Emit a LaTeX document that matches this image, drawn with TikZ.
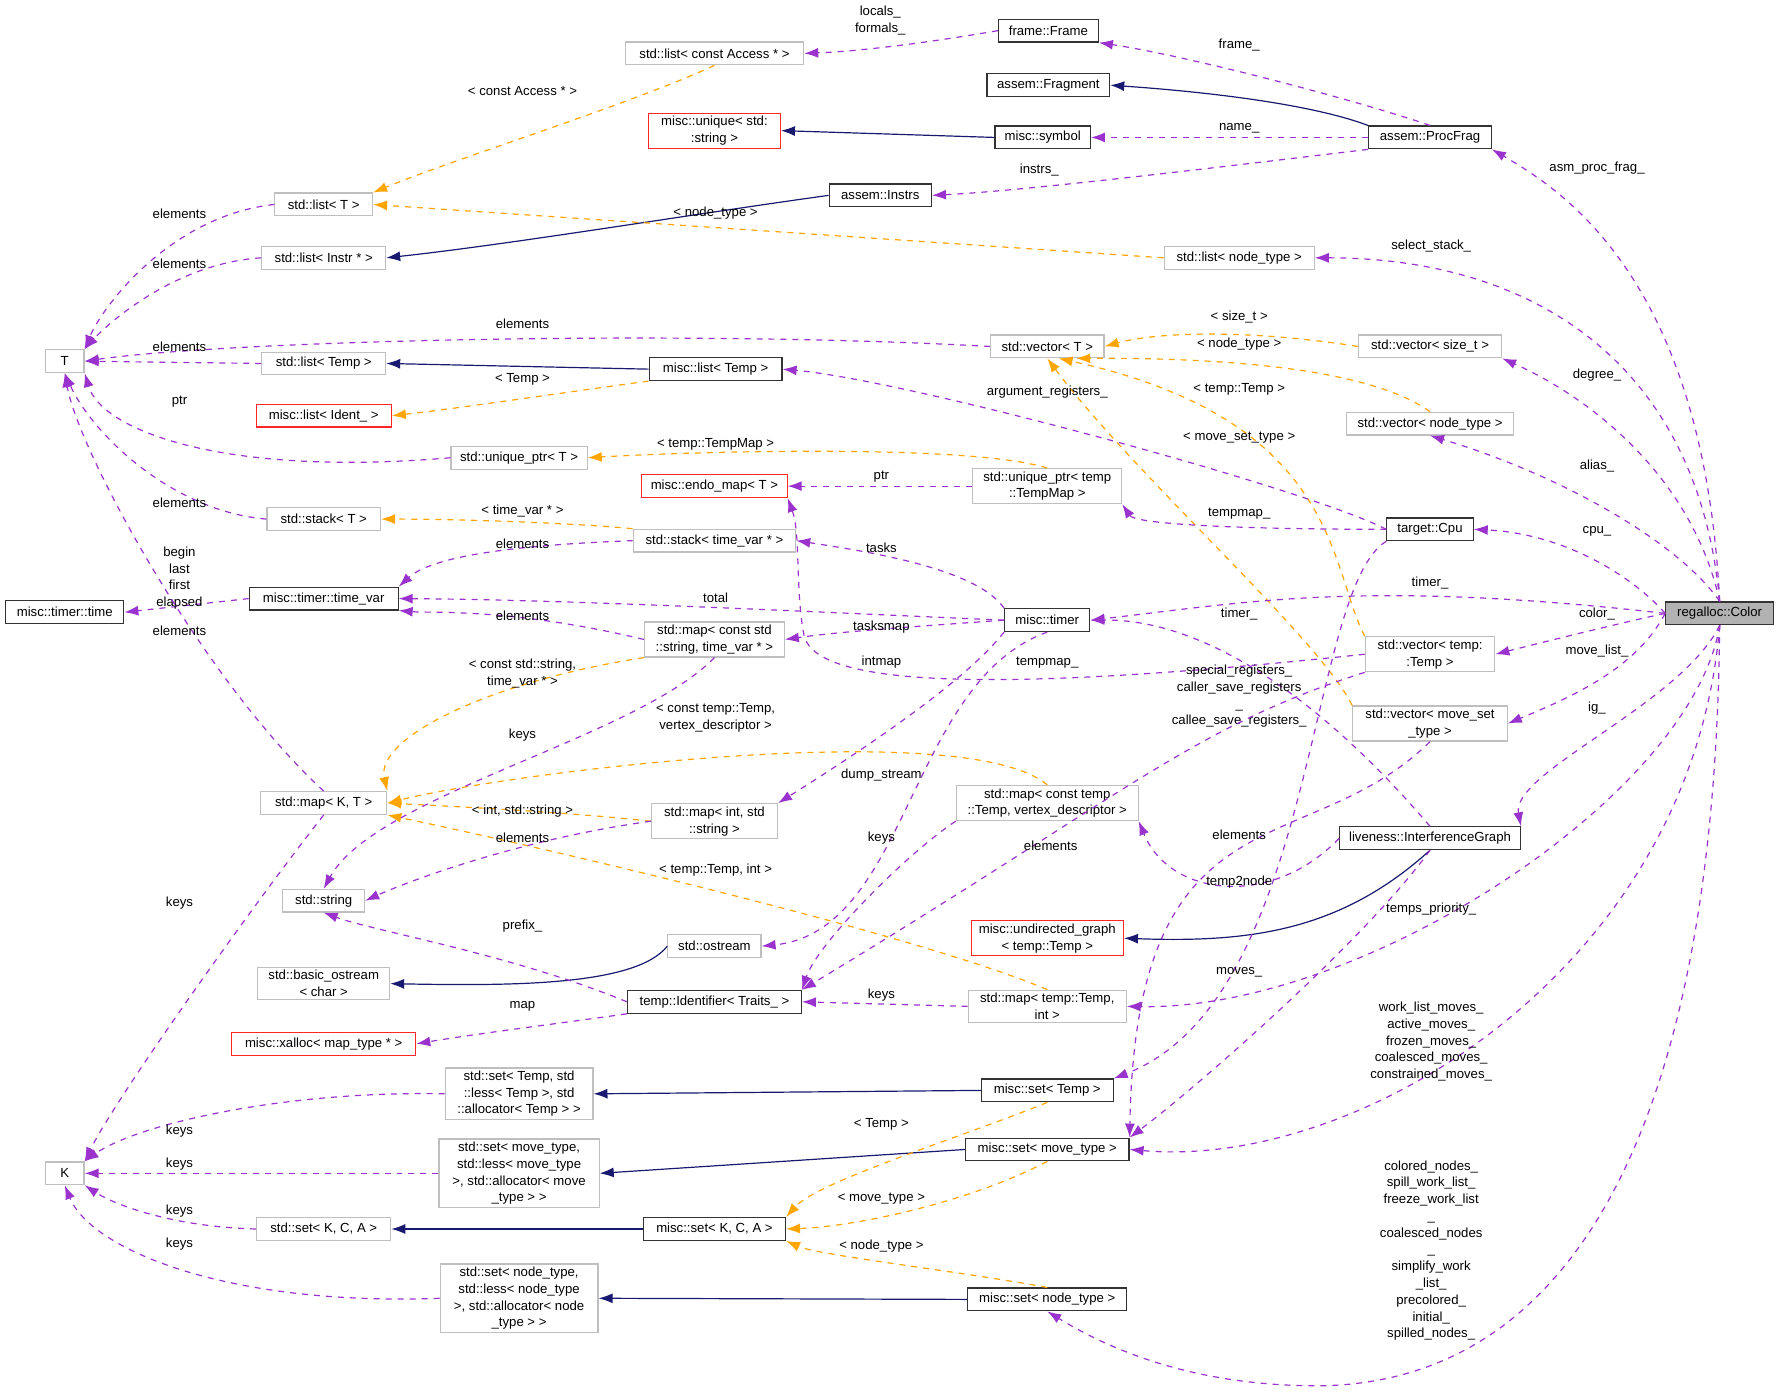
\documentclass[tikz,border=0pt]{standalone}
\usepackage{fontspec}
\setmainfont{Liberation Sans}
\usetikzlibrary{arrows.meta}
\definecolor{mpur}{HTML}{9A32CD}
\definecolor{morg}{HTML}{FFA500}
\definecolor{mnav}{HTML}{191970}
\begin{document}
\begin{tikzpicture}[x=0.02cm,y=-0.02cm,
  every node/.style={font=\fontsize{6.6}{8.4}\selectfont, align=center},
  box/.style={rectangle, draw, line width=0.6pt, minimum height=0.4cm, inner sep=1.5pt},
  bk/.style={box, draw=black!80},
  gr/.style={box, draw=black!25},
  rd/.style={box, draw=red!85},
  w/.style={minimum width=#1*0.02cm},
  mem/.style={draw=mpur, dashed, line width=0.6pt, -{Latex[length=7pt,width=5pt]}},
  tpl/.style={draw=morg, dashed, line width=0.6pt, -{Latex[length=7pt,width=5pt]}},
  inh/.style={draw=mnav, line width=0.6pt, -{Latex[length=7pt,width=5pt]}},
  lbl/.style={inner sep=0pt}]
\useasboundingbox (0,0) rectangle (1568,1226);
% nodes
\node[bk, w=95, fill=black!30] (Color) at (1514,540) {regalloc::Color};
\node[bk, w=88] (Frame) at (923,27) {frame::Frame};
\node[gr, w=157] (ListAccess) at (629,47) {std::list< const Access * >};
\node[bk, w=108] (Fragment) at (923,75) {assem::Fragment};
\node[rd, w=116] (Unique) at (629,115) {misc::unique< std:\\:string >};
\node[bk, w=84] (Symbol) at (918,121) {misc::symbol};
\node[bk, w=108] (ProcFrag) at (1259,121) {assem::ProcFrag};
\node[bk, w=90] (Instrs) at (775,172) {assem::Instrs};
\node[gr, w=86] (ListT) at (285,180) {std::list< T >};
\node[gr, w=109] (ListInstr) at (285,227) {std::list< Instr * >};
\node[gr, w=132] (ListNode) at (1091,227) {std::list< node\_type >};
\node[gr, w=34] (T) at (57,318) {T};
\node[gr, w=100] (VecT) at (922,305) {std::vector< T >};
\node[gr, w=126] (VecSize) at (1259,305) {std::vector< size\_t >};
\node[gr, w=109] (ListTemp) at (285,320) {std::list< Temp >};
\node[bk, w=117] (MListTemp) at (630,325) {misc::list< Temp >};
\node[rd, w=119] (MListIdent) at (285,366) {misc::list< Ident\_ >};
\node[gr, w=147] (VecNode) at (1259,373) {std::vector< node\_type >};
\node[gr, w=120] (UptrT) at (457,403) {std::unique\_ptr< T >};
\node[rd, w=128] (Endo) at (629,428) {misc::endo\_map< T >};
\node[gr, w=131] (UptrTM) at (922,428) {std::unique\_ptr< temp\\::TempMap >};
\node[gr, w=100] (StackT) at (285,457) {std::stack< T >};
\node[gr, w=143] (StackTV) at (629,476) {std::stack< time\_var * >};
\node[bk, w=76] (Cpu) at (1259,466) {target::Cpu};
\node[bk, w=104] (Time) at (57,539) {misc::timer::time};
\node[bk, w=131] (TimeVar) at (285,527) {misc::timer::time\_var};
\node[bk, w=75] (Timer) at (922,546) {misc::timer};
\node[gr, w=123] (MapStrTv) at (629,563) {std::map< const std\\::string, time\_var * >};
\node[gr, w=114] (VecTemp) at (1259,576) {std::vector< temp:\\:Temp >};
\node[gr, w=136] (VecMove) at (1259,637) {std::vector< move\_set\\\_type >};
\node[gr, w=111] (MapKT) at (285,707) {std::map< K, T >};
\node[gr, w=111] (MapIntStr) at (629,723) {std::map< int, std\\::string >};
\node[gr, w=160] (MapTempVd) at (922,707) {std::map< const temp\\::Temp, vertex\_descriptor >};
\node[bk, w=159] (IG) at (1259,738) {liveness::InterferenceGraph};
\node[gr, w=72] (String) at (285,793) {std::string};
\node[gr, w=82] (Ostream) at (629,833) {std::ostream};
\node[rd, w=134] (Undir) at (922,826) {misc::undirected\_graph\\< temp::Temp >};
\node[gr, w=116] (BOstream) at (285,866) {std::basic\_ostream\\< char >};
\node[bk, w=153] (Ident) at (629,882) {temp::Identifier< Traits\_ >};
\node[gr, w=139] (MapTempInt) at (922,886) {std::map< temp::Temp,\\int >};
\node[rd, w=162] (Xalloc) at (285,919) {misc::xalloc< map\_type * >};
\node[gr, w=130] (SetTemp) at (457,963) {std::set< Temp, std\\::less< Temp >, std\\::allocator< Temp > >};
\node[bk, w=116] (MSetTemp) at (922,960) {misc::set< Temp >};
\node[gr, w=34] (K) at (57,1033) {K};
\node[gr, w=141] (SetMove) at (457,1033) {std::set< move\_type,\\std::less< move\_type\\>, std::allocator< move\\\_type > >};
\node[bk, w=144] (MSetMove) at (922,1012) {misc::set< move\_type >};
\node[gr, w=118] (SetKCA) at (285,1082) {std::set< K, C, A >};
\node[bk, w=125] (MSetKCA) at (629,1082) {misc::set< K, C, A >};
\node[gr, w=139] (SetNode) at (457,1143) {std::set< node\_type,\\std::less< node\_type\\>, std::allocator< node\\\_type > >};
\node[bk, w=140] (MSetNode) at (922,1144) {misc::set< node\_type >};

% inheritance
\draw[inh] (ProcFrag.north west) .. controls (1150,90) and (1050,80) .. (Fragment.east);
\draw[inh] (Symbol.west) -- (Unique.east);
\draw[inh] (Instrs.west) .. controls (600,190) and (450,215) .. (ListInstr.east);
\draw[inh] (MListTemp.west) -- (ListTemp.east);
\draw[inh] (IG.south) .. controls (1180,820) and (1100,830) .. (Undir.east);
\draw[inh] (Ostream.west) .. controls (560,868) and (450,868) .. (BOstream.east);
\draw[inh] (MSetTemp.west) -- (SetTemp.east);
\draw[inh] (MSetMove.west) -- (SetMove.east);
\draw[inh] (MSetKCA.west) -- (SetKCA.east);
\draw[inh] (MSetNode.west) -- (SetNode.east);

% templates
\draw[tpl] (ListAccess.south) .. controls (560,90) and (400,140) .. (ListT.north east);
\node[lbl] at (460,80) {< const Access * >};
\draw[tpl] (ListNode.west) .. controls (700,205) and (400,185) .. (ListT.east);
\node[lbl] at (630,188) {< node\_type >};
\draw[tpl] (VecSize.west) .. controls (1100,290) and (1020,292) .. (VecT.east);
\node[lbl] at (1091,279) {< size\_t >};
\draw[tpl] (VecNode.north) .. controls (1200,320) and (1050,315) .. ([xshift=-0.5cm]VecT.south east);
\node[lbl] at (1091,303) {< node\_type >};
\draw[tpl] (VecTemp.north west) .. controls (1170,500) and (1180,370) .. ([xshift=0.2cm]VecT.south);
\node[lbl] at (1091,343) {< temp::Temp >};
\draw[tpl] (VecMove.north west) .. controls (1160,560) and (1000,420) .. (VecT.south);
\node[lbl] at (1091,385) {< move\_set\_type >};
\draw[tpl] (MListTemp.south west) .. controls (500,345) and (400,360) .. (MListIdent.east);
\node[lbl] at (460,334) {< Temp >};
\draw[tpl] (UptrTM.north) .. controls (850,390) and (600,398) .. (UptrT.east);
\node[lbl] at (630,391) {< temp::TempMap >};
\draw[tpl] (StackTV.north west) .. controls (500,460) and (400,457) .. (StackT.east);
\node[lbl] at (460,450) {< time\_var * >};
\draw[tpl] (MapStrTv.south west) .. controls (430,600) and (330,650) .. (MapKT.north east);
\node[lbl] at (460,593) {< const std::string,\\time\_var * >};
\draw[tpl] (MapTempVd.north) .. controls (850,630) and (450,680) .. (MapKT.east);
\node[lbl] at (630,632) {< const temp::Temp,\\vertex\_descriptor >};
\draw[tpl] (MapIntStr.west) .. controls (500,715) and (400,710) .. (MapKT.east);
\node[lbl] at (460,714) {< int, std::string >};
\draw[tpl] (MapTempInt.north) .. controls (800,820) and (450,740) .. (MapKT.south east);
\node[lbl] at (630,766) {< temp::Temp, int >};
\draw[tpl] (MSetTemp.south) .. controls (850,1000) and (720,1040) .. (MSetKCA.north east);
\node[lbl] at (776,990) {< Temp >};
\draw[tpl] (MSetMove.south) .. controls (850,1060) and (750,1080) .. (MSetKCA.east);
\node[lbl] at (776,1055) {< move\_type >};
\draw[tpl] (MSetNode.north) .. controls (850,1120) and (720,1105) .. (MSetKCA.south east);
\node[lbl] at (776,1097) {< node\_type >};

% members
\draw[mem] (Frame.west) .. controls (820,37) and (760,45) .. (ListAccess.east);
\node[lbl] at (775,18) {locals\_\\formals\_};
\draw[mem] (ProcFrag.north) .. controls (1200,90) and (1050,50) .. (Frame.south east);
\node[lbl] at (1091,40) {frame\_};
\draw[mem] (ProcFrag.west) -- (Symbol.east);
\node[lbl] at (1091,113) {name\_};
\draw[mem] (ProcFrag.south west) .. controls (1050,150) and (900,168) .. (Instrs.east);
\node[lbl] at (915,150) {instrs\_};
\draw[mem] (Color.north) .. controls (1500,250) and (1380,170) .. (ProcFrag.south east);
\node[lbl] at (1406,148) {asm\_proc\_frag\_};
\draw[mem] (ListT.west) .. controls (150,190) and (90,270) .. (T.north east);
\node[lbl] at (158,188) {elements};
\draw[mem] (ListInstr.west) .. controls (150,232) and (90,290) .. (T.north east);
\node[lbl] at (158,232) {elements};
\draw[mem] (Color.north) .. controls (1495,320) and (1350,227) .. (ListNode.east);
\node[lbl] at (1260,217) {select\_stack\_};
\draw[mem] (VecT.west) .. controls (600,290) and (200,300) .. (T.east);
\node[lbl] at (460,285) {elements};
\draw[mem] (ListTemp.west) -- (T.east);
\node[lbl] at (158,305) {elements};
\draw[mem] (Color.north) .. controls (1490,420) and (1400,350) .. (VecSize.south east);
\node[lbl] at (1406,330) {degree\_};
\draw[mem] (Cpu.west) .. controls (1150,430) and (800,335) .. (MListTemp.east);
\node[lbl] at (922,345) {argument\_registers\_};
\draw[mem] (UptrT.west) .. controls (200,420) and (90,380) .. (T.south east);
\node[lbl] at (158,354) {ptr};
\draw[mem] (Color.north) .. controls (1480,480) and (1380,420) .. (VecNode.south);
\node[lbl] at (1406,410) {alias\_};
\draw[mem] (UptrTM.west) -- (Endo.east);
\node[lbl] at (776,420) {ptr};
\draw[mem] (Cpu.west) .. controls (1100,466) and (1000,462) .. (UptrTM.south east);
\node[lbl] at (1091,452) {tempmap\_};
\draw[mem] (StackT.west) .. controls (150,450) and (80,380) .. (T.south);
\node[lbl] at (158,443) {elements};
\draw[mem] (Color.west) .. controls (1440,510) and (1380,470) .. (Cpu.east);
\node[lbl] at (1406,468) {cpu\_};
\draw[mem] (Timer.north west) .. controls (860,500) and (760,485) .. (StackTV.east);
\node[lbl] at (776,482) {tasks};
\draw[mem] (StackTV.west) .. controls (450,480) and (380,490) .. (TimeVar.north east);
\node[lbl] at (460,479) {elements};
\draw[mem] (TimeVar.west) -- (Time.east);
\node[lbl] at (158,509) {begin\\last\\first\\elapsed};
\draw[mem] (Timer.west) .. controls (700,538) and (500,528) .. (TimeVar.east);
\node[lbl] at (630,526) {total};
\draw[mem] (Color.west) .. controls (1200,510) and (1100,530) .. (Timer.east);
\node[lbl] at (1259,513) {timer\_};
\draw[mem] (MapStrTv.west) .. controls (450,535) and (380,540) .. (TimeVar.south east);
\node[lbl] at (460,542) {elements};
\draw[mem] (Timer.west) .. controls (800,552) and (740,556) .. (MapStrTv.east);
\node[lbl] at (776,552) {tasksmap};
\draw[mem] (Color.west) .. controls (1420,550) and (1360,565) .. (VecTemp.east);
\node[lbl] at (1406,541) {color\_};
\draw[mem] (Timer.south west) .. controls (850,600) and (760,660) .. (MapIntStr.north east);
\node[lbl] at (776,583) {intmap};
\draw[mem] (IG.north) .. controls (1150,600) and (1050,545) .. (Timer.east);
\node[lbl] at (1091,541) {timer\_};
\draw[mem] (VecTemp.west) .. controls (900,608) and (720,608) .. (708,560) .. controls (700,520) and (705,470) .. (Endo.south east);
\node[lbl] at (922,583) {tempmap\_};
\draw[mem] (Color.west) .. controls (1440,590) and (1380,615) .. (VecMove.east);
\node[lbl] at (1406,573) {move\_list\_};
\draw[mem] (MapStrTv.south) .. controls (560,650) and (330,700) .. (String.north);
\node[lbl] at (460,647) {keys};
\draw[mem] (MapKT.north) .. controls (180,600) and (70,400) .. (T.south);
\node[lbl] at (158,555) {elements};
\draw[mem] (Timer.south) .. controls (800,600) and (800,820) .. (Ostream.east);
\node[lbl] at (776,682) {dump\_stream};
\draw[mem] (Cpu.south west) .. controls (1150,520) and (1160,880) .. (MSetTemp.north east);
\node[lbl] at (1091,613) {special\_registers\_\\caller\_save\_registers\\\_\\callee\_save\_registers\_};
\draw[mem] (Color.south) .. controls (1480,620) and (1330,680) .. (IG.north east);
\node[lbl] at (1406,623) {ig\_};
\draw[mem] (MapIntStr.west) .. controls (450,740) and (350,780) .. (String.east);
\node[lbl] at (460,738) {elements};
\draw[mem] (MapTempVd.south west) .. controls (800,750) and (720,830) .. (Ident.north east);
\node[lbl] at (776,738) {keys};
\draw[mem] (VecTemp.south west) .. controls (1050,640) and (990,700) .. (Ident.north east);
\node[lbl] at (925,745) {elements};
\draw[mem] (IG.west) .. controls (1120,800) and (1030,790) .. (MapTempVd.south east);
\node[lbl] at (1091,777) {temp2node};
\draw[mem] (VecMove.south) .. controls (1150,760) and (1000,690) .. (MSetMove.north east);
\node[lbl] at (1091,735) {elements};
\draw[mem] (MapKT.south) .. controls (220,800) and (100,970) .. (K.north east);
\node[lbl] at (158,795) {keys};
\draw[mem] (Ident.west) .. controls (450,840) and (330,820) .. (String.south);
\node[lbl] at (460,815) {prefix\_};
\draw[mem] (Color.south) .. controls (1490,700) and (1200,890) .. (MapTempInt.east);
\node[lbl] at (1260,800) {temps\_priority\_};
\draw[mem] (IG.south) .. controls (1200,830) and (1050,960) .. (MSetMove.north east);
\node[lbl] at (1091,856) {moves\_};
\draw[mem] (MapTempInt.west) -- (Ident.east);
\node[lbl] at (776,876) {keys};
\draw[mem] (Ident.south west) .. controls (500,900) and (420,910) .. (Xalloc.east);
\node[lbl] at (460,886) {map};
\draw[mem] (SetTemp.west) .. controls (250,960) and (120,990) .. (K.north east);
\node[lbl] at (158,996) {keys};
\draw[mem] (SetMove.west) -- (K.east);
\node[lbl] at (158,1025) {keys};
\draw[mem] (SetKCA.west) .. controls (150,1080) and (100,1060) .. (K.south east);
\node[lbl] at (158,1066) {keys};
\draw[mem] (SetNode.west) .. controls (200,1150) and (80,1100) .. (K.south);
\node[lbl] at (158,1095) {keys};
\draw[mem] (Color.south) .. controls (1490,850) and (1200,1030) .. (MSetMove.east);
\node[lbl] at (1260,917) {work\_list\_moves\_\\active\_moves\_\\frozen\_moves\_\\coalesced\_moves\_\\constrained\_moves\_};
\draw[mem] (Color.south) .. controls (1510,1000) and (1380,1225) .. (1150,1220) .. controls (1050,1218) and (980,1190) .. (MSetNode.south);
\node[lbl] at (1260,1101) {colored\_nodes\_\\spill\_work\_list\_\\freeze\_work\_list\\\_\\coalesced\_nodes\\\_\\simplify\_work\\\_list\_\\precolored\_\\initial\_\\spilled\_nodes\_};
\end{tikzpicture}
\end{document}
